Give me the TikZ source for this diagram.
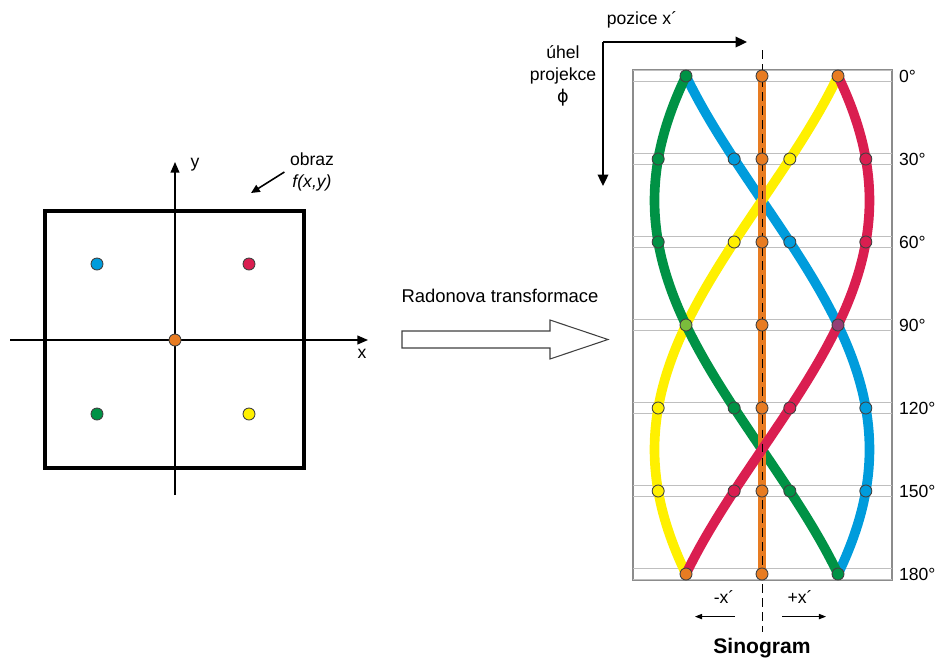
\documentclass[tikz,border=0pt]{standalone}
\usepackage{fontspec}
\setmainfont{Liberation Sans}
\newfontfamily\phifont{DejaVu Sans}
\usetikzlibrary{arrows.meta,positioning,calc}

\definecolor{pgreen}{RGB}{0,146,69}
\definecolor{pblue}{RGB}{0,156,220}
\definecolor{pred}{RGB}{218,30,80}
\definecolor{pyellow}{RGB}{255,240,0}
\definecolor{porange}{RGB}{232,124,34}
\definecolor{pmixgy}{RGB}{122,188,60}
\definecolor{pmixrb}{RGB}{148,62,118}

\begin{document}
\begin{tikzpicture}[
    x=0.02cm, y=-0.02cm,
    lbl/.style={font=\fontsize{10}{12.5}\selectfont, inner sep=1pt},
    dot/.style={circle, draw=black!75, line width=0.5pt, minimum size=0.24cm, inner sep=0pt},
    axis/.style={line width=0.75pt, -{Triangle[length=6pt,width=5pt]}},
    ptr/.style={line width=1.1pt, -{Triangle[length=6.5pt,width=6pt]}},
    thinptr/.style={line width=0.5pt, -{Triangle[length=4pt,width=3pt]}},
    curve/.style={line width=5.5pt},
    gridline/.style={draw=black!25, line width=0.5pt}
]
    \useasboundingbox (0,0) rectangle (941,664);

    % Image f(x,y)
    \draw[line width=2pt] (45,211) rectangle (304,468);
    \draw[axis] (10,340) -- (368,340);
    \draw[axis] (175,495) -- (175,162);
    \node[lbl] (xlab) at (362,354) {x};
    \node[lbl] (ylab) at (195,165) {y};
    \node[lbl, align=center, inner sep=3pt] (img) at (312,172) {obraz\\\textit{f(x,y)}};
    \coordinate (imgtip) at (251,193);
    \draw[line width=0.9pt, -{Triangle[length=5pt,width=4.5pt]}] (img.west) -- (imgtip);

    % Points of the image
    \node[dot, fill=pblue] (ptblue) at (97,264) {};
    \node[dot, fill=pred] (ptred) at (249,264) {};
    \node[dot, fill=porange] (ptorange) at (175,340) {};
    \node[dot, fill=pgreen] (ptgreen) at (97,414) {};
    \node[dot, fill=pyellow] (ptyellow) at (249,414) {};

    % Transform arrow
    \node[lbl, font=\fontsize{10.5}{12}\selectfont] (radon) at (500,296) {Radonova transformace};
    \draw[draw=black!75, fill=white, line width=0.6pt] (402,331) -- (550,331) -- (550,320)
        -- (608,339.5) -- (550,359) -- (550,348) -- (402,348) -- cycle;

    % Sinogram frame and rows
    \draw[draw=black!45, line width=0.6pt] (633,70) rectangle (892,580);
    \foreach \p in {0,30,...,180} {
        \draw[gridline] (633,{76+\p*83/30-5.5}) -- (892,{76+\p*83/30-5.5});
        \draw[gridline] (633,{76+\p*83/30+5.5}) -- (892,{76+\p*83/30+5.5});
        \node[lbl, anchor=west] (ang\p) at (897,{76+\p*83/30}) {\p°};
    }

    % Sinusoids
    \foreach \c/\a/\b in {pblue/-1/1, pyellow/1/-1, pgreen/-1/-1} {
        \draw[curve, \c] plot[domain=0:180, samples=91, variable=\t]
            ({762+76*(\a*cos(\t)+\b*sin(\t))}, {76+\t*83/30});
    }
    \draw[line width=5pt, porange] (762,76) -- (762,574);
    \draw[curve, pred] plot[domain=0:180, samples=91, variable=\t]
        ({762+76*(cos(\t)+sin(\t))}, {76+\t*83/30});
    \draw[line width=0.5pt, dash pattern=on 5pt off 3pt] (762,50) -- (762,632);

    % Sinogram points
    \foreach \c/\a/\b in {pblue/-1/1, pred/1/1, pgreen/-1/-1, pyellow/1/-1} {
        \foreach \p in {30,60,120,150}
            \node[dot, fill=\c] (\c\p) at ({762+76*(\a*cos(\p)+\b*sin(\p))}, {76+\p*83/30}) {};
    }
    \foreach \p in {0,30,...,180}
        \node[dot, fill=porange] (mid\p) at (762,{76+\p*83/30}) {};
    \node[dot, fill=pgreen] (left0) at (686,76) {};
    \node[dot, fill=porange] (right0) at (838,76) {};
    \node[dot, fill=pmixgy] (left90) at (686,325) {};
    \node[dot, fill=pmixrb] (right90) at (838,325) {};
    \node[dot, fill=porange] (left180) at (686,574) {};
    \node[dot, fill=pgreen] (right180) at (838,574) {};

    % Sinogram axes
    \coordinate (corner) at (603,42);
    \coordinate (xend) at (747,42);
    \coordinate (phiend) at (603,186);
    \draw[ptr] (corner) -- (xend);
    \draw[ptr] (corner) -- (phiend);
    \node[lbl] (pos) at (642,20) {pozice x´};
    \node[lbl, align=center] (proj) at (563,76) {úhel\\projekce\\{\phifont ϕ}};

    % Bottom labels
    \node[lbl] (negx) at (724,597) {-x´};
    \node[lbl] (posx) at (800,597) {+x´};
    \draw[thinptr] ($(negx.south)+(11,11)$) -- ++(-40,0);
    \draw[thinptr] ($(posx.south)+(-18,11)$) -- ++(44,0);
    \node[font=\fontsize{12}{14}\selectfont\bfseries] (sino) at (762,648) {Sinogram};
\end{tikzpicture}
\end{document}
